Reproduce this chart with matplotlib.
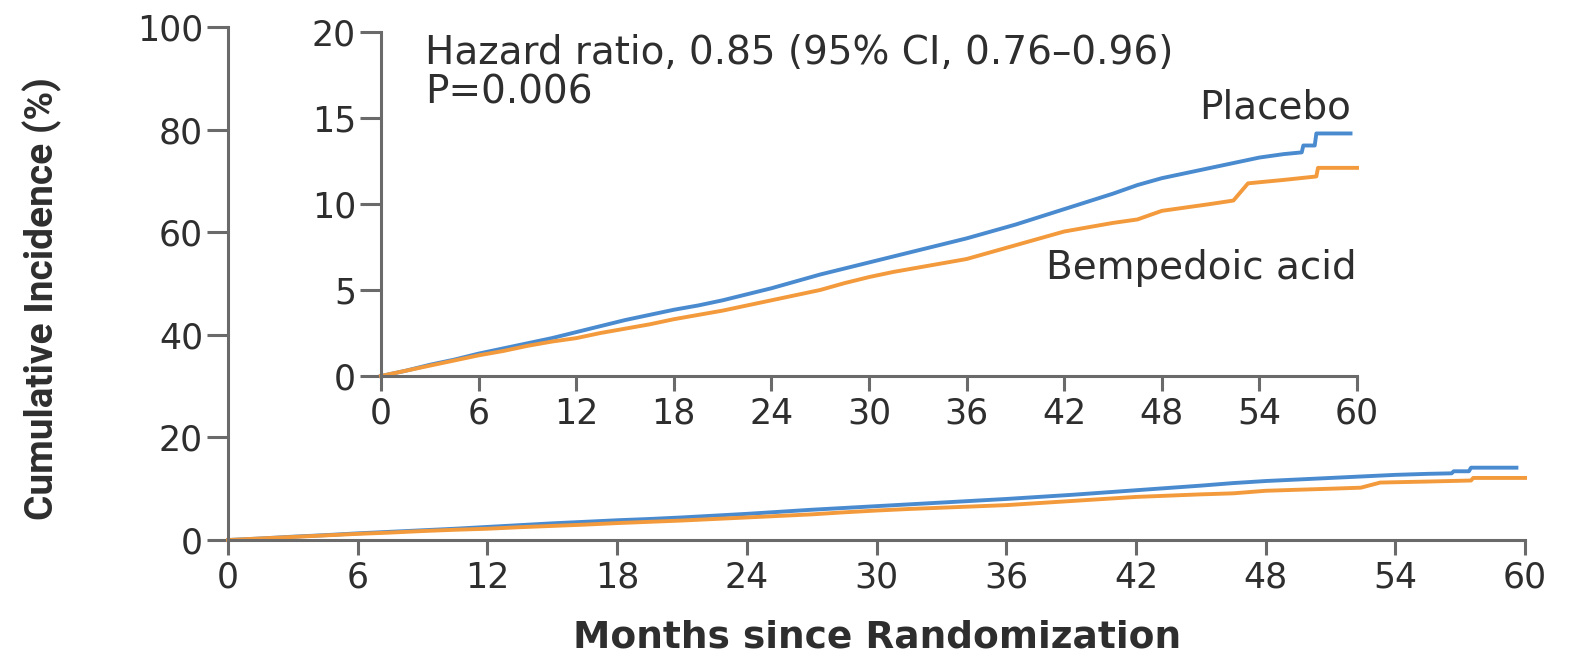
import matplotlib
matplotlib.use('Agg')
import matplotlib.pyplot as plt

# months since randomization / cumulative incidence (%)
months_pbo = [0, 1.5, 3, 4.5, 6, 7.5, 9, 10.5, 12, 13.5, 15, 16.5, 18, 19.5, 21, 22.5,
              24, 25.5, 27, 28.5, 30, 31.5, 33, 34.5, 36, 37.5, 39, 40.5, 42, 43.5, 45,
              46.5, 48, 49.5, 51, 52.5, 54, 55.5, 56.6, 56.7, 57.4, 57.5, 59.6]
placebo = [0, 0.3, 0.65, 0.95, 1.3, 1.6, 1.9, 2.2, 2.55, 2.9, 3.25, 3.55, 3.85, 4.1, 4.4, 4.75,
           5.1, 5.5, 5.9, 6.25, 6.6, 6.95, 7.3, 7.65, 8.0, 8.4, 8.8, 9.25, 9.7, 10.15, 10.6,
           11.1, 11.5, 11.8, 12.1, 12.4, 12.7, 12.9, 13.0, 13.4, 13.4, 14.1, 14.1]

months_bem = [0, 1.5, 3, 4.5, 6, 7.5, 9, 10.5, 12, 13.5, 15, 16.5, 18, 19.5, 21, 22.5,
              24, 25.5, 27, 28.5, 30, 31.5, 33, 34.5, 36, 37.5, 39, 40.5, 42, 43.5, 45,
              46.5, 48, 49.5, 51, 52.4, 53.3, 55.5, 57.5, 57.6, 60]
bempedoic = [0, 0.3, 0.6, 0.9, 1.2, 1.45, 1.75, 2.0, 2.2, 2.5, 2.75, 3.0, 3.3, 3.55, 3.8, 4.1,
             4.4, 4.7, 5.0, 5.4, 5.75, 6.05, 6.3, 6.55, 6.8, 7.2, 7.6, 8.0, 8.4, 8.65, 8.9,
             9.1, 9.6, 9.8, 10.0, 10.2, 11.2, 11.4, 11.6, 12.1, 12.1]

xticks = list(range(0, 61, 6))
main_yticks = [0, 20, 40, 60, 80, 100]
inset_yticks = [0, 5, 10, 15, 20]

BLUE = '#4a8bd0'
ORANGE = '#f39a3c'
AXC = '#6a6a6a'
TXT = '#2e2e2e'

plt.rcParams['font.family'] = ['DejaVu Sans']

fig = plt.figure(figsize=(15.75, 6.58), dpi=100)
ax = fig.add_axes([0.1448, 0.1793, 0.8235, 0.7797])
ins = fig.add_axes([0.2419, 0.4286, 0.6197, 0.5228])


def style(a, ymax, yt):
    a.set_xlim(0, 60)
    a.set_ylim(0, ymax)
    a.set_xticks(xticks)
    a.set_yticks(yt)
    for s in ['top', 'right']:
        a.spines[s].set_visible(False)
    for s in ['left', 'bottom']:
        a.spines[s].set_color(AXC)
        a.spines[s].set_linewidth(2.2)
    a.tick_params(axis='both', colors=AXC, labelcolor=TXT, labelsize=25, width=2.2)
    a.tick_params(axis='x', length=11, pad=4)
    a.tick_params(axis='y', length=15, pad=3)
    a.patch.set_alpha(0)


style(ax, 100, main_yticks)
style(ins, 20, inset_yticks)

for a in (ax, ins):
    a.plot(months_pbo, placebo, color=BLUE, lw=2.8, clip_on=False)
    a.plot(months_bem, bempedoic, color=ORANGE, lw=2.8, clip_on=False)

ax.set_xlabel('Months since Randomization', fontsize=27, fontweight='bold', color=TXT)
ax.xaxis.set_label_coords(0.5, -0.155)
ax.set_ylabel('Cumulative Incidence (%)', fontsize=28, fontweight='bold', color=TXT,
              family=['DejaVu Sans Condensed', 'Liberation Sans Narrow', 'Roboto', 'DejaVu Sans'])
ax.yaxis.set_label_coords(-0.128, 0.47)

ins.text(2.7, 19.9, 'Hazard ratio, 0.85 (95% CI, 0.76\u20130.96)\nP=0.006', fontsize=28,
         color=TXT, va='top', ha='left', linespacing=1.05)
ins.text(59.6, 15.6, 'Placebo', fontsize=28, color=TXT, ha='right', va='center')
ins.text(60, 6.3, 'Bempedoic acid', fontsize=28, color=TXT, ha='right', va='center')

fig.savefig('out.png', dpi=100)
